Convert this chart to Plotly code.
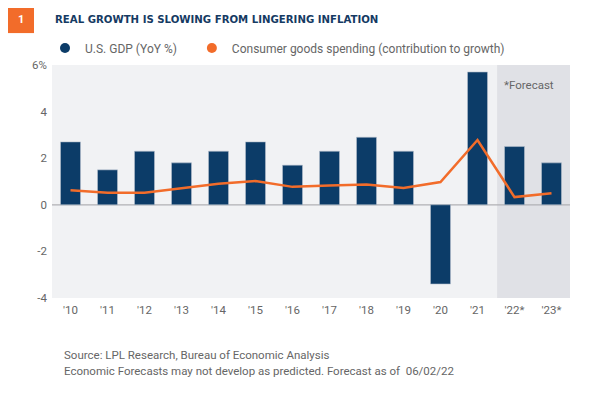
import plotly.graph_objects as go

years = ["'10", "'11", "'12", "'13", "'14", "'15", "'16", "'17", "'18", "'19", "'20", "'21", "'22*", "'23*"]
gdp = [2.7, 1.5, 2.3, 1.8, 2.3, 2.7, 1.7, 2.3, 2.9, 2.3, -3.4, 5.7, 2.5, 1.8]
goods = [0.62, 0.52, 0.52, 0.7, 0.9, 1.02, 0.77, 0.83, 0.87, 0.72, 0.98, 2.78, 0.33, 0.5]
y_ticks = [-4, -2, 0, 2, 4, 6]
y_labels = ["-4", "-2", "0", "2", "4", "6%"]

NAVY = "#0c3c68"
ORANGE = "#f26c2a"
GRAY_TXT = "#666666"
x_idx = list(range(len(years)))

fig = go.Figure()
fig.add_trace(go.Bar(x=x_idx, y=gdp, name="U.S. GDP (YoY %)", showlegend=False,
                     marker=dict(color=NAVY, line=dict(color="#b5bfcc", width=0.6)), width=0.54))
fig.add_trace(go.Scatter(x=x_idx, y=goods, name="Consumer goods spending (contribution to growth)", mode="lines",
                         showlegend=False, line=dict(color=ORANGE, width=2.5)))
# legend entries with circle markers
fig.add_trace(go.Scatter(x=[None], y=[None], mode="markers", name="U.S. GDP (YoY %)", legend="legend",
                         marker=dict(color=NAVY, size=10, symbol="circle")))
fig.add_trace(go.Scatter(x=[None], y=[None], mode="markers", name="Consumer goods spending (contribution to growth)",
                         legend="legend2", marker=dict(color=ORANGE, size=10, symbol="circle")))

fig.add_shape(type="rect", xref="x", yref="paper", x0=11.53, x1=13.5, y0=0, y1=1,
              fillcolor="#e0e1e6", line=dict(width=0), layer="below")
fig.add_shape(type="line", xref="paper", yref="y", x0=0, x1=1, y0=0, y1=0,
              line=dict(color="#b0b0b5", width=1.2), layer="below")

fig.add_annotation(x=12.39, y=5.15, xref="x", yref="y", text="*Forecast", showarrow=False,
                   font=dict(family="Roboto", size=11.5, color=GRAY_TXT))

# title
fig.add_shape(type="rect", xref="paper", yref="paper", x0=-0.085, x1=-0.0347, y0=1.137, y1=1.245,
              fillcolor=ORANGE, line=dict(width=0))
fig.add_annotation(x=-0.06, y=1.195, xref="paper", yref="paper", xanchor="center", yanchor="middle",
                   text="<b>1</b>", showarrow=False,
                   font=dict(family="Roboto", size=11, color="white"))
fig.add_annotation(x=0.002, y=1.197, xref="paper", yref="paper", xanchor="left", yanchor="middle",
                   text="<b>REAL GROWTH IS SLOWING FROM LINGERING INFLATION</b>",
                   showarrow=False, font=dict(family="DejaVu Sans Condensed", size=11.3, color="#153a63"))

fig.add_annotation(x=0.019, y=-0.207, xref="paper", yref="paper", xanchor="left", yanchor="top", align="left",
                   text="Source: LPL Research, Bureau of Economic Analysis",
                   showarrow=False, font=dict(family="Roboto", size=11.5, color=GRAY_TXT))
fig.add_annotation(x=0.019, y=-0.276, xref="paper", yref="paper", xanchor="left", yanchor="top", align="left",
                   text="Economic Forecasts may not develop as predicted. Forecast as of  06/02/22",
                   showarrow=False, font=dict(family="Roboto", size=11.5, color=GRAY_TXT))

legend_common = dict(orientation="h", y=1.073, xanchor="left", yanchor="middle",
                     font=dict(family="Roboto", size=12, color=GRAY_TXT),
                     bgcolor="rgba(0,0,0,0)", itemwidth=30)

fig.update_layout(
    width=585, height=388,
    margin=dict(l=44, r=23, t=57, b=98),
    paper_bgcolor="white", plot_bgcolor="#f1f2f4",
    showlegend=True,
    legend=dict(x=-0.0135, **legend_common),
    legend2=dict(x=0.270, **legend_common),
    xaxis=dict(range=[-0.5, 13.5], tickmode="array", tickvals=x_idx, ticktext=years, showgrid=False,
               zeroline=False, tickfont=dict(family="Roboto", size=11.5, color=GRAY_TXT), ticks="", ticklabelstandoff=3),
    yaxis=dict(range=[-4, 6], tickmode="array", tickvals=y_ticks, ticktext=y_labels, showgrid=False,
               zeroline=False, tickfont=dict(family="Roboto", size=11.5, color=GRAY_TXT), ticks="", ticklabelstandoff=4),
    font=dict(family="Roboto"),
)

fig.write_html("out.html")
